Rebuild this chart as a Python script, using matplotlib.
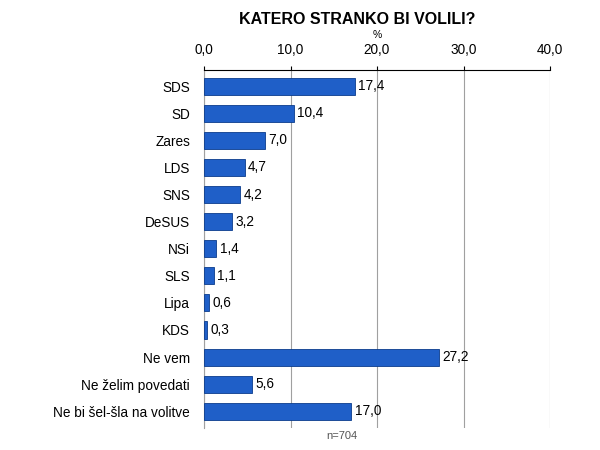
import matplotlib
matplotlib.use("Agg")
import matplotlib.pyplot as plt

categories = ["SDS", "SD", "Zares", "LDS", "SNS", "DeSUS", "NSi", "SLS", "Lipa", "KDS",
              "Ne vem", "Ne želim povedati", "Ne bi šel-šla na volitve"]
values = [17.4, 10.4, 7.0, 4.7, 4.2, 3.2, 1.4, 1.1, 0.6, 0.3, 27.2, 5.6, 17.0]
xticks = [0, 10, 20, 30, 40]
title = "KATERO STRANKO BI VOLILI?"
note = "n=704"

plt.rcParams['font.family'] = ['Liberation Sans', 'DejaVu Sans']

fig = plt.figure(figsize=(6, 4.5), dpi=100)
ax = fig.add_axes([204/600, 1 - 428/450, (550-204)/600, (428-70)/450])

ypos = list(range(len(categories)))
ax.barh(ypos, values, height=0.63, color="#1f5fc8", edgecolor="#0b3c8c", linewidth=0.6, zorder=3)
for y, v in zip(ypos, values):
    ax.text(v + 0.4, y, f"{v:.1f}".replace(".", ","), va="center", ha="left", fontsize=9.8, zorder=4)

ax.set_xlim(0, 40)
ax.set_ylim(len(categories) - 1 + 0.62, -0.6)
ax.set_yticks(ypos)
ax.set_yticklabels(categories, fontsize=9.8)
ax.tick_params(axis='y', length=0, pad=10)
ax.xaxis.tick_top()
ax.set_xticks(xticks)
ax.set_xticklabels([f"{t:.1f}".replace(".", ",") for t in xticks], fontsize=9.8)
ax.tick_params(axis='x', length=3, pad=6, color="black")
ax.grid(axis='x', color="#a0a0a0", linewidth=0.8, zorder=0)
for s in ["right", "bottom"]:
    ax.spines[s].set_visible(False)
ax.spines["top"].set_color("black")
ax.spines["left"].set_color("#a0a0a0")

fig.text(357/600, 1 - 19/450, title, ha="center", va="center", fontsize=11.5, fontweight="bold")
fig.text(377/600, 1 - 35/450, "%", ha="center", va="center", fontsize=7.5)
fig.text(342/600, 1 - 436/450, note, ha="center", va="center", fontsize=8, color="#555555")

fig.savefig("out.png", dpi=100, facecolor="white")
